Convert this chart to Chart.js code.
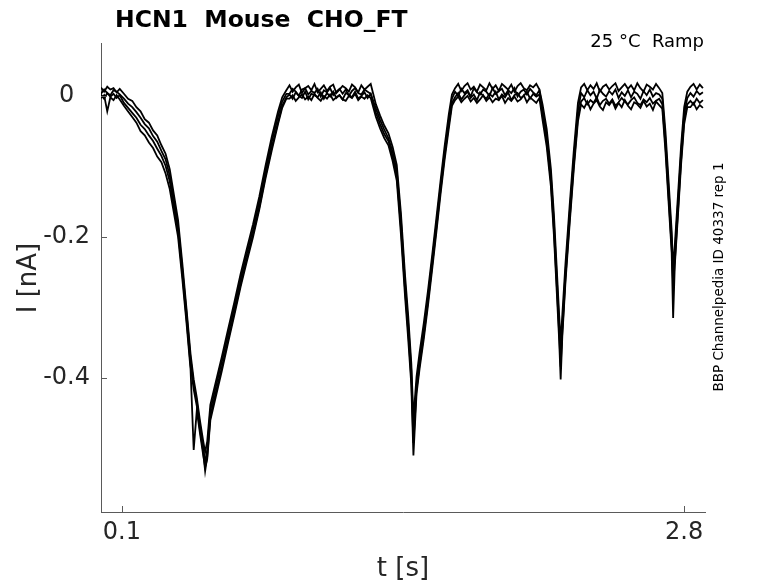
<!DOCTYPE html>
<html>
<head>
<meta charset="utf-8">
<title>HCN1 Mouse CHO_FT</title>
<script src="https://cdn.jsdelivr.net/npm/chart.js@4.4.1/dist/chart.umd.min.js"></script>
<style>
    html, body { margin: 0; padding: 0; background: #ffffff; }
    canvas { display: block; }
</style>
</head>
<body>
<canvas id="ramp-chart" width="778" height="583"></canvas>
<script>
// Sample times (s), shared by every recorded sweep
const timeS = [
    0, 0.015, 0.03, 0.045, 0.06, 0.075, 0.09,
    0.11, 0.13, 0.15, 0.17, 0.19, 0.21, 0.23, 0.25, 0.27, 0.29, 0.31, 0.33, 0.35, 0.37, 0.39, 0.41, 0.43,
    0.445, 0.46, 0.475, 0.49, 0.5, 0.51,
    0.525, 0.55, 0.58, 0.61, 0.64, 0.67, 0.7, 0.73, 0.76, 0.79, 0.82, 0.85, 0.87, 0.89,
    0.905, 0.92, 0.935, 0.95, 0.965, 0.98, 0.995, 1.01, 1.025, 1.04, 1.055, 1.07, 1.085, 1.1,
    1.115, 1.13, 1.145, 1.16, 1.175, 1.19, 1.205, 1.22, 1.235, 1.25, 1.265, 1.28, 1.295,
    1.32, 1.34, 1.36, 1.38, 1.4, 1.42, 1.44, 1.46, 1.475, 1.49, 1.5,
    1.515, 1.53, 1.55, 1.57, 1.59, 1.61, 1.63, 1.65, 1.67, 1.685,
    1.7, 1.715, 1.73, 1.745, 1.76, 1.775, 1.79, 1.805, 1.82, 1.835, 1.85, 1.865, 1.88, 1.895,
    1.91, 1.925, 1.94, 1.955, 1.97, 1.985, 2.0, 2.015, 2.03, 2.045, 2.06, 2.075, 2.09, 2.105,
    2.12, 2.14, 2.16, 2.175, 2.19, 2.2, 2.207,
    2.215, 2.23, 2.25, 2.27, 2.29,
    2.305, 2.32, 2.335, 2.35, 2.365, 2.38, 2.395, 2.41, 2.425, 2.44, 2.455, 2.47, 2.485,
    2.5, 2.515, 2.53, 2.545, 2.56, 2.575, 2.59, 2.605, 2.62, 2.635, 2.65, 2.665, 2.68,
    2.695, 2.71, 2.725, 2.74, 2.747,
    2.755, 2.77, 2.785, 2.8, 2.815,
    2.83, 2.845, 2.86, 2.875, 2.89
];

// Current (nA) of each sweep
const sweep1 = [
    0.012, 0.006, 0.013, 0.009, 0.011, 0.005, 0.010,
    0.003, -0.004, -0.007, -0.016, -0.022, -0.033, -0.038, -0.049, -0.056, -0.070, -0.082, -0.104, -0.140, -0.176, -0.236, -0.300, -0.366,
    -0.402, -0.428, -0.460, -0.488, -0.505, -0.490,
    -0.438, -0.407, -0.370, -0.331, -0.293, -0.253, -0.217, -0.182, -0.143, -0.099, -0.058, -0.022, -0.002, 0.008,
    0.015, 0.006, 0.012, 0.016, 0.004, 0.011, 0.014, 0.008, 0.017, 0.005, 0.010, 0.015, 0.007, 0.013,
    0.016, 0.004, 0.009, 0.014, 0.011, 0.006, 0.016, 0.012, 0.005, 0.015, 0.009, 0.013, 0.017,
    -0.012, -0.028, -0.042, -0.053, -0.072, -0.098, -0.166, -0.255, -0.312, -0.380, -0.458,
    -0.398, -0.363, -0.322, -0.276, -0.226, -0.174, -0.121, -0.071, -0.026, 0.002,
    0.011, 0.017, 0.007, 0.014, 0.018, 0.009, 0.013, 0.006, 0.016, 0.012, 0.008, 0.018, 0.010, 0.015,
    0.007, 0.017, 0.013, 0.009, 0.016, 0.006, 0.014, 0.018, 0.011, 0.008, 0.015, 0.012, 0.017, 0.009,
    -0.012, -0.047, -0.103, -0.170, -0.255, -0.312, -0.350,
    -0.310, -0.238, -0.156, -0.078, -0.010,
    0.012, 0.017, 0.008, 0.015, 0.010, 0.018, 0.006, 0.013, 0.016, 0.009, 0.014, 0.018, 0.007,
    0.012, 0.017, 0.010, 0.015, 0.008, 0.018, 0.011, 0.006, 0.016, 0.013, 0.009, 0.017, 0.011,
    0.004, -0.050, -0.120, -0.192, -0.245,
    -0.212, -0.142, -0.072, -0.016, 0.006,
    0.013, 0.017, 0.009, 0.016, 0.011
];

const sweep2 = [
    0.003, 0.009, 0.004, 0.001, 0.008, 0.006, 0.002,
    -0.004, -0.011, -0.016, -0.023, -0.031, -0.040, -0.046, -0.057, -0.065, -0.078, -0.090, -0.113, -0.148, -0.185, -0.244, -0.306, -0.373,
    -0.408, -0.434, -0.466, -0.496, -0.521, -0.502,
    -0.446, -0.414, -0.377, -0.338, -0.300, -0.260, -0.224, -0.189, -0.150, -0.106, -0.065, -0.029, -0.008, 0.003,
    0.003, 0.010, 0.006, 0.000, 0.009, 0.011, 0.002, 0.007, 0.004, 0.010, -0.001, 0.008, 0.005, 0.011,
    0.001, 0.006, 0.010, 0.003, 0.009, 0.000, 0.007, 0.011, 0.004, 0.002, 0.009, 0.006, 0.003,
    -0.018, -0.034, -0.048, -0.060, -0.079, -0.106, -0.176, -0.266, -0.323, -0.390, -0.478,
    -0.410, -0.372, -0.331, -0.284, -0.234, -0.182, -0.129, -0.079, -0.034, -0.004,
    0.006, 0.000, 0.010, 0.004, 0.008, -0.001, 0.011, 0.005, 0.002, 0.009, 0.006, 0.000, 0.011, 0.003,
    0.007, 0.010, 0.001, 0.008, 0.004, 0.011, -0.001, 0.006, 0.009, 0.002, 0.010, 0.005, 0.001, 0.008,
    -0.020, -0.056, -0.113, -0.182, -0.267, -0.326, -0.372,
    -0.326, -0.250, -0.167, -0.089, -0.021,
    0.004, -0.002, 0.008, 0.001, 0.006, -0.004, 0.009, 0.003, -0.001, 0.007, 0.002, 0.009, -0.003,
    0.005, 0.000, 0.008, -0.002, 0.006, 0.003, -0.004, 0.007, 0.001, 0.009, -0.001, 0.004, 0.002,
    -0.004, -0.061, -0.132, -0.203, -0.260,
    -0.224, -0.153, -0.082, -0.025, -0.003,
    0.004, -0.001, 0.007, 0.002, 0.005
];

const sweep3 = [
    0.002, -0.004, 0.004, -0.001, 0.003, -0.003, 0.001,
    -0.010, -0.017, -0.024, -0.031, -0.041, -0.047, -0.056, -0.064, -0.075, -0.085, -0.099, -0.121, -0.157, -0.192, -0.250, -0.314, -0.382,
    -0.416, -0.440, -0.473, -0.503, -0.532, -0.512,
    -0.454, -0.422, -0.385, -0.346, -0.307, -0.267, -0.231, -0.196, -0.158, -0.113, -0.073, -0.037, -0.014, -0.002,
    0.002, -0.004, 0.005, 0.000, -0.003, 0.006, -0.005, 0.003, 0.001, -0.002, 0.005, -0.004, 0.004, -0.001,
    0.006, -0.003, 0.001, -0.005, 0.004, 0.002, -0.002, 0.006, -0.004, 0.000, 0.005, -0.003, 0.003,
    -0.024, -0.040, -0.054, -0.064, -0.086, -0.112, -0.186, -0.276, -0.334, -0.402, -0.492,
    -0.416, -0.380, -0.338, -0.291, -0.240, -0.188, -0.134, -0.084, -0.040, -0.010,
    -0.002, 0.004, -0.005, 0.001, 0.006, -0.003, 0.002, -0.006, 0.005, 0.000, -0.004, 0.003, -0.001, 0.006,
    -0.005, 0.002, -0.002, 0.005, -0.006, 0.001, 0.004, -0.003, 0.000, 0.006, -0.004, 0.003, -0.001, 0.002,
    -0.028, -0.064, -0.121, -0.192, -0.278, -0.338, -0.384,
    -0.334, -0.258, -0.176, -0.098, -0.030,
    -0.008, -0.003, -0.012, -0.006, -0.010, -0.002, -0.013, -0.007, -0.004, -0.011, -0.005, -0.014, -0.009,
    -0.003, -0.008, -0.012, -0.006, -0.002, -0.010, -0.013, -0.005, -0.009, -0.003, -0.011, -0.007, -0.004,
    -0.012, -0.070, -0.142, -0.215, -0.268,
    -0.235, -0.164, -0.092, -0.034, -0.012,
    -0.007, -0.012, -0.004, -0.010, -0.006
];

const sweep4 = [
    -0.003, 0.001, -0.022, -0.002, -0.006, 0.001, -0.005,
    -0.014, -0.022, -0.030, -0.038, -0.050, -0.056, -0.066, -0.074, -0.086, -0.094, -0.110, -0.132, -0.166, -0.200, -0.258, -0.320, -0.388,
    -0.502, -0.446, -0.478, -0.508, -0.526, -0.515,
    -0.460, -0.428, -0.390, -0.350, -0.311, -0.271, -0.235, -0.200, -0.161, -0.117, -0.077, -0.040, -0.017, -0.004,
    -0.004, 0.001, -0.007, -0.002, 0.002, -0.005, -0.001, -0.006, 0.003, -0.003, -0.007, 0.000, -0.004, 0.002,
    -0.006, -0.002, 0.001, -0.005, -0.007, 0.000, -0.003, 0.003, -0.006, -0.001, -0.004, 0.001, -0.003,
    -0.030, -0.046, -0.060, -0.070, -0.092, -0.120, -0.196, -0.285, -0.345, -0.410, -0.510,
    -0.422, -0.386, -0.344, -0.297, -0.246, -0.194, -0.140, -0.090, -0.046, -0.014,
    -0.006, -0.001, -0.009, -0.004, 0.000, -0.008, -0.003, -0.010, -0.005, 0.001, -0.007, -0.002, -0.009, -0.004,
    -0.006, 0.000, -0.010, -0.003, -0.007, -0.001, -0.008, -0.005, 0.001, -0.009, -0.002, -0.006, -0.010, -0.003,
    -0.034, -0.072, -0.128, -0.200, -0.288, -0.348, -0.402,
    -0.340, -0.264, -0.182, -0.104, -0.036,
    -0.012, -0.017, -0.008, -0.019, -0.011, -0.006, -0.015, -0.020, -0.009, -0.013, -0.007, -0.018, -0.010,
    -0.016, -0.006, -0.014, -0.019, -0.009, -0.012, -0.017, -0.007, -0.015, -0.011, -0.020, -0.008, -0.013,
    -0.018, -0.078, -0.150, -0.222, -0.315,
    -0.240, -0.170, -0.098, -0.040, -0.016,
    -0.016, -0.010, -0.019, -0.013, -0.017
];

const sweeps = [sweep1, sweep2, sweep3, sweep4];

// Axis ticks
const xTickVals = [0.1, 2.8];
const xTickLabels = ['0.1', '2.8'];
const yTickVals = [0, -0.2, -0.4];
const yTickLabels = ['0', '-0.2', '-0.4'];

const titleText = 'HCN1  Mouse  CHO_FT';
const conditionText = '25 \u00B0C  Ramp';
const sourceText = 'BBP Channelpedia ID 40337 rep 1';

const FONT = 'DejaVu Sans';
const AXIS_COLOR = '#5a5a5a';
const TEXT_COLOR = '#262626';

/**
 * Inward tick marks plus the figure texts (title, labels, annotations)
 */
const figureDecor = {
    id: 'figureDecor',
    afterDraw(chart) {
        const { ctx, chartArea, scales } = chart;
        ctx.save();

        // MATLAB style ticks pointing into the axes
        ctx.strokeStyle = AXIS_COLOR;
        ctx.lineWidth = 1;
        yTickVals.forEach(v => {
            const y = Math.round(scales.y.getPixelForValue(v)) + 0.5;
            ctx.beginPath();
            ctx.moveTo(chartArea.left, y);
            ctx.lineTo(chartArea.left + 6, y);
            ctx.stroke();
        });
        xTickVals.forEach(v => {
            const x = Math.round(scales.x.getPixelForValue(v)) + 0.5;
            ctx.beginPath();
            ctx.moveTo(x, chartArea.bottom);
            ctx.lineTo(x, chartArea.bottom - 6);
            ctx.stroke();
        });

        // Title
        ctx.fillStyle = '#000000';
        ctx.textAlign = 'left';
        ctx.textBaseline = 'alphabetic';
        ctx.font = `bold 23.5px "${FONT}"`;
        ctx.fillText(titleText, 115, 27);

        // Condition, top right
        ctx.font = `18px "${FONT}"`;
        ctx.textAlign = 'right';
        ctx.fillText(conditionText, 704, 47);

        // Axis labels
        ctx.fillStyle = TEXT_COLOR;
        ctx.font = `26px "${FONT}"`;
        ctx.textAlign = 'center';
        ctx.fillText('t [s]', 403, 576);

        ctx.save();
        ctx.translate(36, 278);
        ctx.rotate(-Math.PI / 2);
        ctx.fillText('I [nA]', 0, 0);
        ctx.restore();

        // Source note on the right edge
        ctx.save();
        ctx.fillStyle = '#000000';
        ctx.font = `13.5px "${FONT}"`;
        ctx.translate(723, 277);
        ctx.rotate(-Math.PI / 2);
        ctx.fillText(sourceText, 0, 0);
        ctx.restore();

        ctx.restore();
    }
};

function buildDatasets() {
    return sweeps.map((values, i) => ({
        label: 'sweep ' + (i + 1),
        data: timeS.map((t, k) => ({ x: t, y: values[k] })),
        borderColor: '#000000',
        borderWidth: 1.8,
        pointRadius: 0,
        tension: 0,
        fill: false
    }));
}

const ctx = document.getElementById('ramp-chart').getContext('2d');

new Chart(ctx, {
    type: 'line',
    data: { datasets: buildDatasets() },
    options: {
        responsive: false,
        animation: false,
        layout: {
            padding: { top: 43, right: 73, bottom: 0, left: 0 }
        },
        plugins: {
            legend: { display: false },
            title: { display: false },
            tooltip: { enabled: false }
        },
        scales: {
            x: {
                type: 'linear',
                min: 0,
                max: 2.9,
                grid: { display: false, drawTicks: false },
                border: { display: true, color: AXIS_COLOR, width: 1 },
                afterBuildTicks: scale => {
                    scale.ticks = xTickVals.map(v => ({ value: v }));
                },
                afterFit: scale => {
                    scale.height = 71;
                },
                ticks: {
                    autoSkip: false,
                    maxRotation: 0,
                    padding: 6,
                    color: TEXT_COLOR,
                    font: { family: FONT, size: 24 },
                    callback: (value, index) => xTickLabels[index]
                }
            },
            y: {
                type: 'linear',
                min: -0.59,
                max: 0.075,
                grid: { display: false, drawTicks: false },
                border: { display: true, color: AXIS_COLOR, width: 1 },
                afterBuildTicks: scale => {
                    scale.ticks = yTickVals.map(v => ({ value: v }));
                },
                afterFit: scale => {
                    scale.width = 101;
                },
                ticks: {
                    autoSkip: false,
                    padding: 11,
                    crossAlign: 'center',
                    color: TEXT_COLOR,
                    font: { family: FONT, size: 24 },
                    callback: (value, index) => yTickLabels[index]
                }
            }
        }
    },
    plugins: [figureDecor]
});
</script>
</body>
</html>
